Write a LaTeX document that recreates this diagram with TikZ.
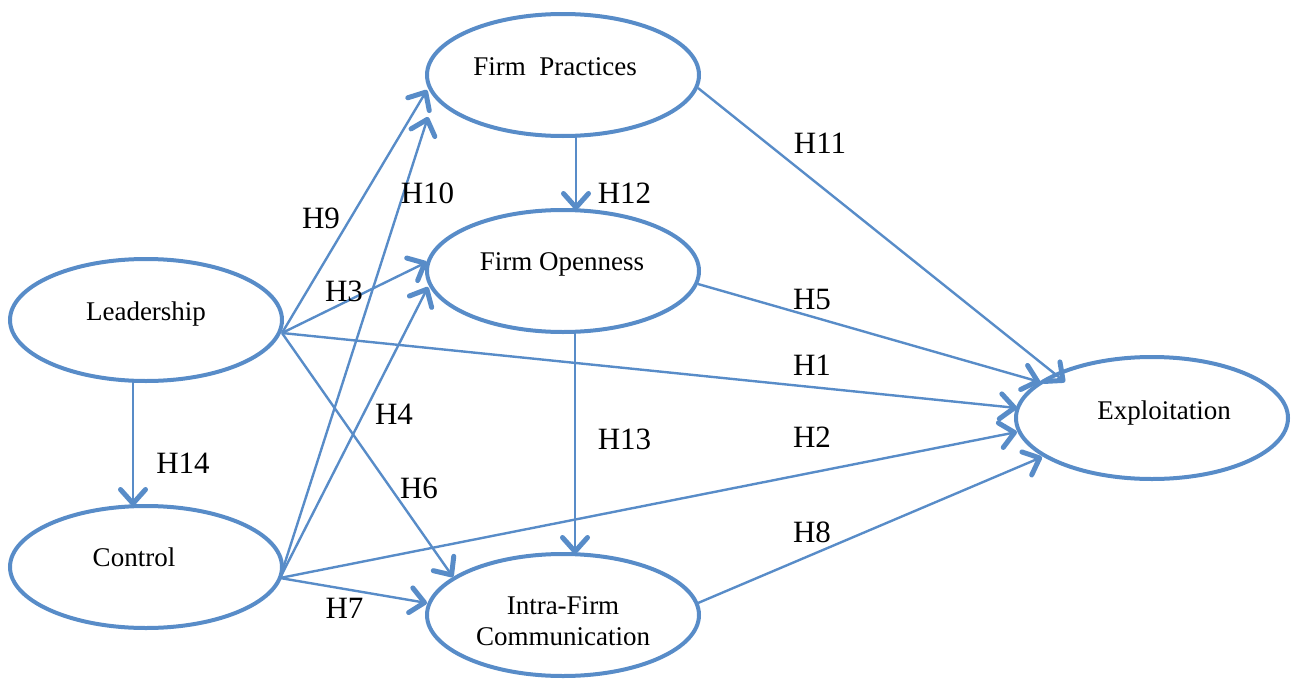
\documentclass[tikz,border=0pt]{standalone}
\usepackage{fontspec}
\newfontfamily\boxfont{Liberation Serif}
\usetikzlibrary{shapes.geometric,arrows.meta,calc}

\definecolor{linkblue}{RGB}{88,140,200}

\tikzset{
  construct/.style={draw=linkblue, line width=4pt, ellipse, fill=white,
    minimum width=272pt, minimum height=122pt, inner sep=0pt, outer sep=0pt},
  ctext/.style={font=\boxfont\fontsize{27}{31}\selectfont, anchor=base, inner sep=0pt},
  hyp/.style={font=\boxfont\fontsize{31}{36}\selectfont, anchor=base, inner sep=0pt},
  path/.style={draw=linkblue, line width=2.4pt,
    -{Straight Barb[length=14pt, width=25pt, line width=5pt, round]}}
}

\begin{document}
\begin{tikzpicture}[x=1pt, y=-1pt]
\useasboundingbox (0,0) rectangle (1291,680);

% constructs
\node[construct] (fp)   at (563,75)   {};
\node[construct] (fo)   at (563,271)  {};
\node[construct] (lead) at (146,320)  {};
\node[construct] (ctrl) at (146,567)  {};
\node[construct] (ifc)  at (563,615)  {};
\node[construct] (expl) at (1152,418) {};

\node[ctext] (fpT)   at (555,75)  {Firm\ \ Practices};
\node[ctext] (foT)   at (562,270) {Firm Openness};
\node[ctext] (leadT) at (146,320) {Leadership};
\node[ctext] (ctrlT) at (134,566) {Control};
\node[ctext] (ifcT1) at (563,614) {Intra-Firm};
\node[ctext] (ifcT2) at (563,645) {Communication};
\node[ctext] (explT) at (1164,419) {Exploitation};

% common start points on the right of Leadership and Control
\coordinate (ls) at ($(lead.east)+(0,13)$);
\coordinate (cs) at ($(ctrl.east)+(-2,11)$);

% paths from Leadership
\draw[path] (ls) -- ($(fp.west)+(0,15)$);     % H9
\draw[path] (ls) -- ($(fo.west)+(0,-9)$);     % H3
\draw[path] (ls) -- ($(expl.west)+(1,-10)$);  % H1
\draw[path] (ls) -- ($(ifc.west)+(26,-38)$);  % H6
\draw[path] ($(lead.south)+(-13,0)$) -- ($(ctrl.north)+(-13,0)$); % H14

% paths from Control
\draw[path] (cs) -- ($(fp.west)+(1,42)$);     % H10
\draw[path] (cs) -- ($(fo.west)+(1,16)$);     % H4
\draw[path] (cs) -- ($(expl.west)+(1,14)$);   % H2
\draw[path] (cs) -- ($(ifc.west)+(0,-12)$);   % H7

% paths between the middle constructs and to Exploitation
\draw[path] ($(fp.south)+(13,0)$) -- ($(fo.north)+(13,0)$);    % H12
\draw[path] ($(fo.south)+(12,0)$) -- ($(ifc.north)+(12,0)$);   % H13
\draw[path] ($(fp.east)+(-1,13)$) -- ($(expl.west)+(49,-36)$); % H11
\draw[path] ($(fo.east)+(-1,13)$) -- ($(expl.west)+(24,-36)$); % H5
\draw[path] ($(ifc.east)+(-1,-12)$) -- ($(expl.west)+(26,39)$); % H8

% hypothesis labels
\node[hyp] (h9)  at (321,228)   {H9};
\node[hyp] (h10) at (427.5,203) {H10};
\node[hyp] (h3)  at (344,301)   {H3};
\node[hyp] (h12) at (624.5,203) {H12};
\node[hyp] (h14) at (183,473)   {H14};
\node[hyp] (h6)  at (419,498)   {H6};
\node[hyp] (h7)  at (344.5,618) {H7};
\node[hyp] (h11) at (820,153)   {H11};
\node[hyp] (h5)  at (812,309)   {H5};
\node[hyp] (h1)  at (812,375)   {H1};
\node[hyp] (h2)  at (812,447)   {H2};
\node[hyp] (h8)  at (812,542)   {H8};
\node[hyp] (h4)  at (394,424)   {H4};
\node[hyp] (h13) at (624.5,449) {H13};
\end{tikzpicture}
\end{document}
